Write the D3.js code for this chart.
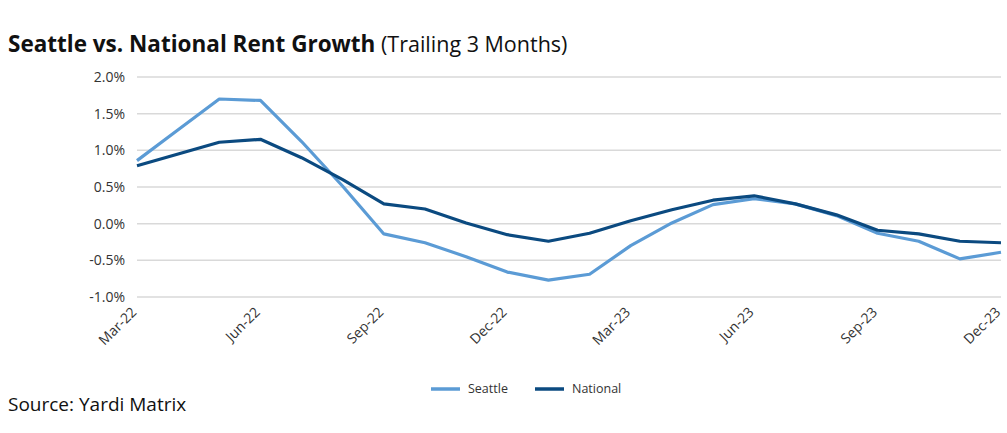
<!DOCTYPE html>
<html>
<head>
<meta charset="utf-8">
<script src="https://cdn.jsdelivr.net/npm/d3@7"></script>
<style>
  body { margin: 0; background: #fff; }
  svg text { font-family: "Open Sans", Lato, sans-serif; }
</style>
</head>
<body>
<div id="chart"></div>
<script>
// monthly data, Mar-22 .. Dec-23
var months = ["Mar-22","Apr-22","May-22","Jun-22","Jul-22","Aug-22","Sep-22","Oct-22","Nov-22","Dec-22","Jan-23","Feb-23",
              "Mar-23","Apr-23","May-23","Jun-23","Jul-23","Aug-23","Sep-23","Oct-23","Nov-23","Dec-23"];
var seattle = [0.86, 1.28, 1.70, 1.68, 1.12, 0.51, -0.14, -0.26, -0.45, -0.66, -0.77, -0.69,
               -0.30, 0.01, 0.26, 0.34, 0.27, 0.11, -0.13, -0.24, -0.48, -0.39];
var national = [0.79, 0.95, 1.11, 1.15, 0.90, 0.60, 0.27, 0.20, 0.01, -0.15, -0.24, -0.13,
                0.04, 0.19, 0.32, 0.38, 0.27, 0.12, -0.09, -0.14, -0.24, -0.26];
var yTicks = [-1.0, -0.5, 0.0, 0.5, 1.0, 1.5, 2.0];
var xTickLabels = ["Mar-22","Jun-22","Sep-22","Dec-22","Mar-23","Jun-23","Sep-23","Dec-23"];

var width = 1007, height = 433;
var margin = {top: 77, right: 6, bottom: 136, left: 137};

var svg = d3.select("#chart").append("svg")
    .attr("width", width)
    .attr("height", height);

// title
var title = svg.append("text")
    .attr("x", 8)
    .attr("y", 52)
    .attr("fill", "#111")
    .style("font-size", "22.5px");
title.append("tspan").attr("font-weight", "bold").text("Seattle vs. National Rent Growth");
title.append("tspan").attr("font-weight", "normal").style("font-size", "21.5px").text(" (Trailing 3 Months)");

var x = d3.scalePoint()
    .domain(months)
    .range([margin.left, width - margin.right]);

var y = d3.scaleLinear()
    .domain([-1.0, 2.0])
    .range([height - margin.bottom, margin.top]);

// gridlines
svg.append("g")
  .selectAll("line")
  .data(yTicks)
  .enter().append("line")
    .attr("x1", margin.left)
    .attr("x2", width - margin.right)
    .attr("y1", function(d) { return y(d); })
    .attr("y2", function(d) { return y(d); })
    .attr("stroke", "#d9d9d9")
    .attr("stroke-width", 1.5);

// y axis labels
var yAxis = svg.append("g")
    .attr("transform", "translate(" + (margin.left - 12) + ",0)")
    .call(d3.axisLeft(y).tickValues(yTicks).tickSize(0).tickFormat(function(d) { return d.toFixed(1) + "%"; }));
yAxis.select(".domain").remove();
yAxis.selectAll("text")
    .attr("x", 0)
    .attr("fill", "#333")
    .style("font-size", "14px");

// x axis labels
var xAxis = svg.append("g")
    .attr("transform", "translate(0," + (height - margin.bottom) + ")")
    .call(d3.axisBottom(x).tickValues(xTickLabels).tickSize(0));
xAxis.select(".domain").remove();
xAxis.selectAll("text")
    .attr("fill", "#333")
    .style("font-size", "14px")
    .style("text-anchor", "end")
    .attr("y", 0)
    .attr("dx", 0)
    .attr("dy", 0)
    .attr("transform", "translate(0,16) rotate(-45)");

var line = d3.line()
    .x(function(d, i) { return x(months[i]); })
    .y(function(d) { return y(d); });

var series = [
  {name: "Seattle", values: seattle, color: "#5b9bd5"},
  {name: "National", values: national, color: "#0b4a80"}
];

svg.selectAll(".series")
  .data(series)
  .enter().append("path")
    .attr("class", "series")
    .attr("fill", "none")
    .attr("stroke", function(d) { return d.color; })
    .attr("stroke-width", 3.2)
    .attr("stroke-linejoin", "round")
    .attr("d", function(d) { return line(d.values); });

// legend
var legend = svg.append("g").attr("transform", "translate(431,389)");
var lx = [0, 104];
series.forEach(function(s, i) {
  var g = legend.append("g").attr("transform", "translate(" + lx[i] + ",0)");
  g.append("line")
    .attr("x1", 0).attr("x2", 29)
    .attr("y1", 0).attr("y2", 0)
    .attr("stroke", s.color)
    .attr("stroke-width", 3.5);
  g.append("text")
    .attr("x", 37)
    .attr("y", 4)
    .attr("fill", "#333")
    .style("font-size", "12.5px")
    .text(s.name);
});

// source
svg.append("text")
    .attr("x", 8)
    .attr("y", 411)
    .attr("fill", "#111")
    .style("font-size", "19px")
    .text("Source: Yardi Matrix");
</script>
</body>
</html>
